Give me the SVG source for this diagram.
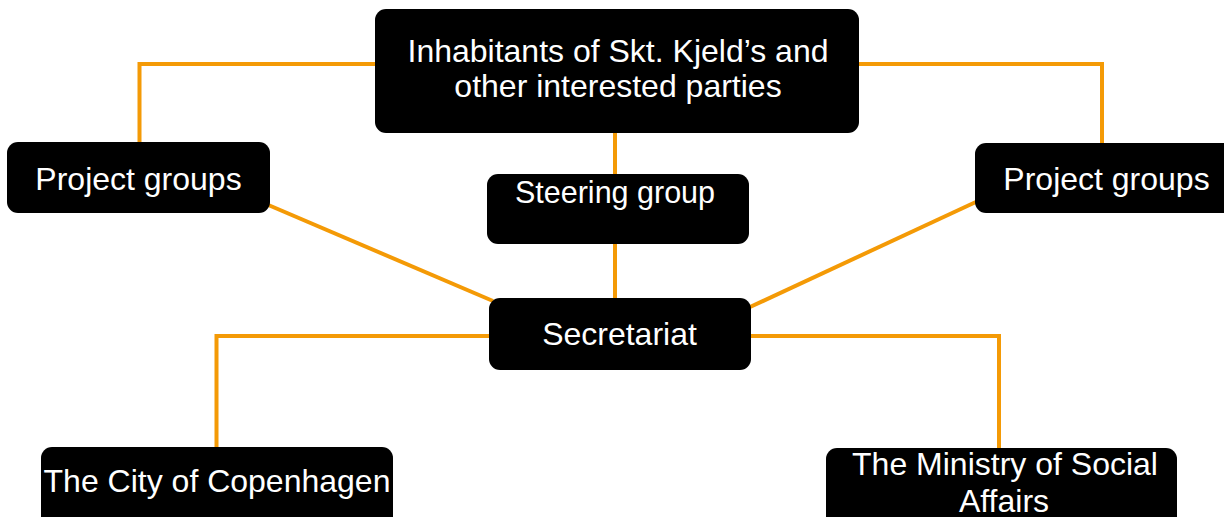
<svg xmlns="http://www.w3.org/2000/svg" width="1224" height="517" viewBox="0 0 1224 517">
<style>
.node rect{fill:#000;}
.node text{fill:#fff;font-family:"Liberation Sans",Arial,sans-serif;font-size:32px;text-anchor:middle;}
.conn{fill:none;stroke:#F49A06;stroke-width:4;}
</style>
<rect width="1224" height="517" fill="#fff"/>
<g id="connectors">
<polyline class="conn" points="376,64 139.5,64 139.5,143"/>
<polyline class="conn" points="858,64 1102,64 1102,144"/>
<line class="conn" x1="615" y1="132" x2="615" y2="175"/>
<line class="conn" x1="615" y1="243" x2="615" y2="299"/>
<line class="conn" x1="266" y1="204" x2="493" y2="301"/>
<line class="conn" x1="750" y1="307" x2="978" y2="201"/>
<polyline class="conn" points="490,336 216.5,336 216.5,448"/>
<polyline class="conn" points="750,336 999,336 999,449"/>
</g>
<g id="inhabitants" class="node">
<rect x="375" y="9" width="484" height="124" rx="11"/>
<text x="618" y="62">Inhabitants of Skt. Kjeld’s and</text>
<text x="618" y="97">other interested parties</text>
</g>
<g id="project-groups-left" class="node">
<rect x="7" y="142" width="263" height="71" rx="11"/>
<text x="138.5" y="190">Project groups</text>
</g>
<g id="project-groups-right" class="node">
<rect x="975" y="143" width="262" height="70" rx="11"/>
<text x="1106.5" y="190">Project groups</text>
</g>
<g id="steering-group" class="node">
<rect x="487" y="174" width="262" height="70" rx="11"/>
<text x="615" y="203" style="font-size:30.5px">Steering group</text>
</g>
<g id="secretariat" class="node">
<rect x="489" y="298" width="262" height="72" rx="11"/>
<text x="619.5" y="345">Secretariat</text>
</g>
<g id="city" class="node">
<rect x="41" y="447" width="352" height="85" rx="11"/>
<text x="217" y="492">The City of Copenhagen</text>
</g>
<g id="ministry" class="node">
<rect x="826" y="448" width="351" height="85" rx="11"/>
<text x="1005" y="475">The Ministry of Social</text>
<text x="1004" y="512">Affairs</text>
</g>
</svg>
